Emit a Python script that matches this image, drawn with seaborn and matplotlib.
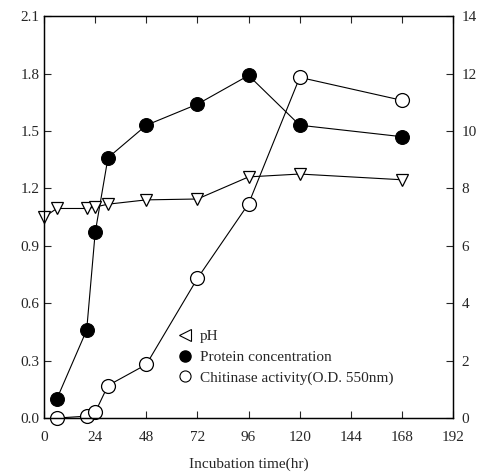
import matplotlib
matplotlib.use("Agg")
import matplotlib.pyplot as plt
from matplotlib.lines import Line2D
import seaborn as sns
import pandas as pd

# datos
hours_ph = [0, 6, 20, 24, 30, 48, 72, 96, 120, 168]
ph = [7.0, 7.3, 7.3, 7.35, 7.45, 7.6, 7.63, 8.4, 8.5, 8.3]

hours = [6, 20, 24, 30, 48, 72, 96, 120, 168]
protein = [0.10, 0.46, 0.97, 1.36, 1.53, 1.64, 1.79, 1.53, 1.47]
chitinase = [0.0, 0.01, 0.03, 0.17, 0.28, 0.73, 1.12, 1.78, 1.66]

x_ticks = [0, 24, 48, 72, 96, 120, 144, 168, 192]
left_ticks = [0.0, 0.3, 0.6, 0.9, 1.2, 1.5, 1.8, 2.1]
right_ticks = [0, 2, 4, 6, 8, 10, 12, 14]

sns.set_style("ticks")
plt.rcParams['font.family'] = ['Liberation Serif', 'DejaVu Serif']

df = pd.DataFrame({"hr": hours, "protein": protein, "chitinase": chitinase})
df_ph = pd.DataFrame({"hr": hours_ph, "ph": ph})

fig = plt.figure(figsize=(4.79, 4.74), dpi=100)
ax = fig.add_axes([0.092, 0.118, 0.854, 0.848])
ax2 = ax.twinx()

sns.lineplot(data=df, x="hr", y="protein", ax=ax, color="black", lw=0.8,
             marker="o", markersize=10, markerfacecolor="black",
             markeredgecolor="black", clip_on=False)
sns.lineplot(data=df, x="hr", y="chitinase", ax=ax, color="black", lw=0.8,
             marker="o", markersize=10, markerfacecolor="white",
             markeredgecolor="black", markeredgewidth=0.9, clip_on=False)
sns.lineplot(data=df_ph, x="hr", y="ph", ax=ax2, color="black", lw=0.8,
             marker="v", markersize=8, markerfacecolor="white",
             markeredgecolor="black", markeredgewidth=0.9, clip_on=False)

ax.set_xlim(0, 192)
ax.set_ylim(0, 2.1)
ax2.set_ylim(0, 14)
ax.set_xticks(x_ticks)
ax.set_yticks(left_ticks)
ax.set_yticklabels([f"{v:.1f}" for v in left_ticks])
ax2.set_yticks(right_ticks)

ax.tick_params(direction="in", top=True, labeltop=False, labelsize=11, length=5, width=0.8)
ax.tick_params(axis="x", pad=9)
ax2.tick_params(direction="in", labelsize=11, length=5, width=0.8, pad=6)
for a in (ax, ax2):
    for s in a.spines.values():
        s.set_visible(True)
        s.set_linewidth(0.9)
        s.set_color("black")

ax.set_xlabel("Incubation time(hr)", fontsize=11, labelpad=10)
ax.set_ylabel("")
ax2.set_ylabel("")

handles = [
    Line2D([], [], ls="none", marker="<", markersize=8, markerfacecolor="white",
           markeredgecolor="black", markeredgewidth=0.8),
    Line2D([], [], ls="none", marker="o", markersize=8, markerfacecolor="black",
           markeredgecolor="black"),
    Line2D([], [], ls="none", marker="o", markersize=8, markerfacecolor="white",
           markeredgecolor="black", markeredgewidth=0.8),
]
labels = ["pH", "Protein concentration", "Chitinase activity(O.D. 550nm)"]
ax.legend(handles, labels, loc="upper left", bbox_to_anchor=(0.31, 0.235),
          frameon=False, fontsize=11, handlelength=1.0, handletextpad=0.5,
          labelspacing=0.45, borderaxespad=0)

fig.savefig("out.png", dpi=100)
